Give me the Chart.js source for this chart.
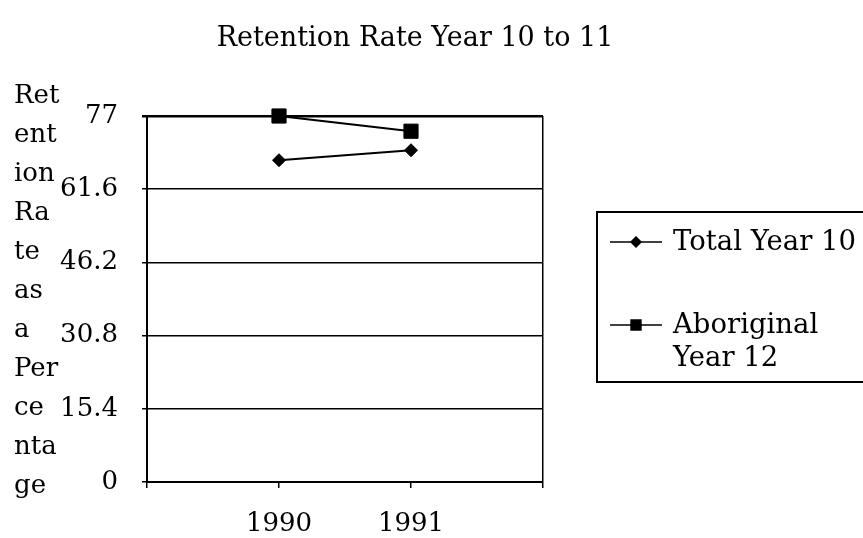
<!DOCTYPE html>
<html>
<head>
<meta charset="utf-8">
<script src="https://cdn.jsdelivr.net/npm/chart.js@4"></script>
<style>
  html, body { margin: 0; padding: 0; background: #fff; }
  #wrap { width: 863px; height: 538px; }
</style>
</head>
<body>
<div id="wrap"><canvas id="chart"></canvas></div>
<script>
const titleText = "Retention Rate Year 10 to 11";
const yTitleLines = ["Ret", "ent", "ion", "Ra", "te", "as", "a", "Per", "ce", "nta", "ge"];
const years = [1990, 1991];
const totalYear10 = [67.7, 69.8];
const aboriginalYear12 = [77, 73.8];
const yTicks = [0, 15.4, 30.8, 46.2, 61.6, 77];
const legendLines = [["Total Year 10"], ["Aboriginal", "Year 12"]];

const FONT = '"DejaVu Serif", "Liberation Serif", serif';
const FONT_SIZE = 26;

function points(vals) {
    return years.map((y, i) => ({ x: y, y: vals[i] }));
}

const decor = {
    id: "decor",
    afterDraw(chart) {
        const ctx = chart.ctx;
        ctx.save();
        ctx.fillStyle = "#000";
        ctx.strokeStyle = "#000";
        ctx.textBaseline = "alphabetic";

        // title
        ctx.font = "27px " + FONT;
        ctx.textAlign = "center";
        ctx.fillText(titleText, 415, 46);

        // stacked y-axis title
        ctx.font = FONT_SIZE + "px " + FONT;
        ctx.textAlign = "left";
        yTitleLines.forEach((s, i) => ctx.fillText(s, 14, 103 + i * 39));

        // legend box
        ctx.lineWidth = 2;
        ctx.strokeRect(597, 212, 300, 170);

        ctx.font = "27.5px " + FONT;
        const rows = [242, 325];
        chart.data.datasets.forEach((ds, i) => {
            const y = rows[i];
            ctx.lineWidth = 1.5;
            ctx.beginPath();
            ctx.moveTo(610, y);
            ctx.lineTo(662, y);
            ctx.stroke();
            Chart.helpers.drawPoint(ctx, {
                pointStyle: ds.pointStyle,
                radius: ds.pointStyle === "rect" ? 7 : 5,
                rotation: 0,
                borderWidth: 1
            }, 636, y);
            ctx.fillStyle = "#000";
            legendLines[i].forEach((s, j) => ctx.fillText(s, 673, y + 8 + j * 33));
        });
        ctx.restore();
    }
};

new Chart(document.getElementById("chart"), {
    type: "line",
    data: {
        datasets: [{
            label: "Total Year 10",
            data: points(totalYear10),
            borderColor: "#000",
            backgroundColor: "#000",
            borderWidth: 2,
            pointStyle: "rectRot",
            pointRadius: 6.5,
            pointBorderWidth: 1,
            clip: false
        }, {
            label: "Aboriginal Year 12",
            data: points(aboriginalYear12),
            borderColor: "#000",
            backgroundColor: "#000",
            borderWidth: 2,
            pointStyle: "rect",
            pointRadius: 10,
            pointBorderWidth: 1,
            clip: false
        }]
    },
    options: {
        responsive: true,
        maintainAspectRatio: false,
        animation: false,
        layout: { padding: { top: 116, right: 320, left: 0, bottom: 0 } },
        plugins: {
            legend: { display: false },
            title: { display: false },
            tooltip: { enabled: false }
        },
        scales: {
            x: {
                type: "linear",
                min: 1989,
                max: 1992,
                afterBuildTicks: s => { s.ticks = [1989, 1990, 1991, 1992].map(v => ({ value: v })); },
                afterFit: s => { s.height = 56; },
                ticks: {
                    color: "#000",
                    font: { family: FONT, size: FONT_SIZE },
                    padding: 21,
                    maxRotation: 0,
                    callback: v => (years.includes(v) ? String(v) : "")
                },
                grid: {
                    color: c => (c.index === 3 ? "#000" : "rgba(0,0,0,0)"),
                    tickColor: "#000",
                    lineWidth: 1.5,
                    tickLength: 6
                },
                border: { color: "#000", width: 2 }
            },
            y: {
                min: 0,
                max: 77,
                afterBuildTicks: s => { s.ticks = yTicks.map(v => ({ value: v })); },
                afterFit: s => { s.width = 147; },
                ticks: {
                    color: "#000",
                    font: { family: FONT, size: FONT_SIZE },
                    padding: 24,
                    callback: v => String(v)
                },
                grid: {
                    color: "#000",
                    lineWidth: c => (c.index === yTicks.length - 1 ? 2.5 : 1.5),
                    tickLength: 5
                },
                border: { color: "#000", width: 2 }
            }
        }
    },
    plugins: [decor]
});
</script>
</body>
</html>
